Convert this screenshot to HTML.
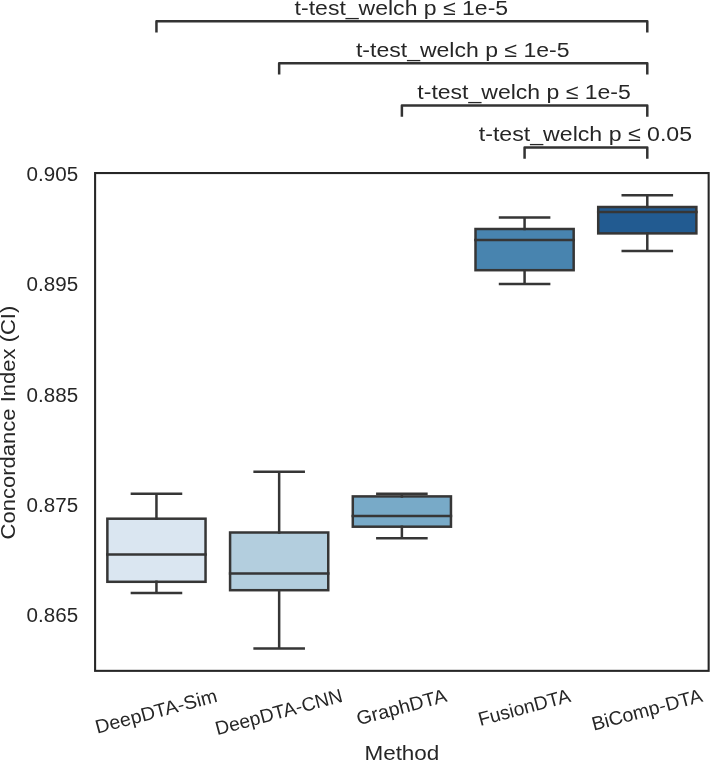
<!DOCTYPE html>
<html><head><meta charset="utf-8"><title>Concordance Index boxplot</title>
<style>html,body{margin:0;padding:0;background:#fff;width:710px;height:761px;overflow:hidden}svg{display:block;will-change:transform}text{fill:#262626}</style>
</head><body>
<svg width="710" height="761" viewBox="0 0 710 761" font-family='"Liberation Sans", sans-serif' fill="#262626">
<rect x="107.37" y="518.70" width="98.17" height="63.10" fill="#dae6f1" stroke="#363636" stroke-width="2.5"/>
<path d="M156.45 518.70V493.70M156.45 581.80V593.10M131.91 493.70H181.00M131.91 593.10H181.00M107.37 554.50H205.54" stroke="#363636" stroke-width="2.5" fill="none" stroke-linecap="square"/>
<rect x="230.08" y="532.50" width="98.17" height="57.70" fill="#b3cede" stroke="#363636" stroke-width="2.5"/>
<path d="M279.16 532.50V471.70M279.16 590.20V648.50M254.62 471.70H303.71M254.62 648.50H303.71M230.08 573.50H328.25" stroke="#363636" stroke-width="2.5" fill="none" stroke-linecap="square"/>
<rect x="352.79" y="496.40" width="98.17" height="30.30" fill="#78aac8" stroke="#363636" stroke-width="2.5"/>
<path d="M401.88 496.40V493.70M401.88 526.70V538.20M377.33 493.70H426.42M377.33 538.20H426.42M352.79 515.95H450.96" stroke="#363636" stroke-width="2.5" fill="none" stroke-linecap="square"/>
<rect x="475.50" y="229.00" width="98.17" height="41.20" fill="#4884af" stroke="#363636" stroke-width="2.5"/>
<path d="M524.58 229.00V217.40M524.58 270.20V284.10M500.04 217.40H549.13M500.04 284.10H549.13M475.50 240.10H573.67" stroke="#363636" stroke-width="2.5" fill="none" stroke-linecap="square"/>
<rect x="598.21" y="207.00" width="98.17" height="26.40" fill="#225b91" stroke="#363636" stroke-width="2.5"/>
<path d="M647.29 207.00V195.20M647.29 233.40V250.90M622.75 195.20H671.84M622.75 250.90H671.84M598.21 212.00H696.38" stroke="#363636" stroke-width="2.5" fill="none" stroke-linecap="square"/>
<rect x="95.1" y="173.05" width="613.55" height="497.80" fill="none" stroke="#262626" stroke-width="2.08" stroke-linecap="square"/>
<path d="M156.45 31.30V21.30H647.29V31.30" stroke="#333333" stroke-width="2.5" fill="none" stroke-linejoin="round" stroke-linecap="square"/>
<path d="M279.16 73.30V63.30H647.29V73.30" stroke="#333333" stroke-width="2.5" fill="none" stroke-linejoin="round" stroke-linecap="square"/>
<path d="M401.88 115.50V105.50H647.29V115.50" stroke="#333333" stroke-width="2.5" fill="none" stroke-linejoin="round" stroke-linecap="square"/>
<path d="M524.58 157.50V147.50H647.29V157.50" stroke="#333333" stroke-width="2.5" fill="none" stroke-linejoin="round" stroke-linecap="square"/>
<text x="401.38" y="14.90" font-size="20.9" text-anchor="middle" textLength="213.50" lengthAdjust="spacingAndGlyphs">t-test_welch p ≤ 1e-5</text>
<text x="462.73" y="56.90" font-size="20.9" text-anchor="middle" textLength="213.50" lengthAdjust="spacingAndGlyphs">t-test_welch p ≤ 1e-5</text>
<text x="524.09" y="99.10" font-size="20.9" text-anchor="middle" textLength="213.50" lengthAdjust="spacingAndGlyphs">t-test_welch p ≤ 1e-5</text>
<text x="585.44" y="141.10" font-size="20.9" text-anchor="middle" textLength="213.30" lengthAdjust="spacingAndGlyphs">t-test_welch p ≤ 0.05</text>
<text x="78.10" y="181.07" font-size="19.4" text-anchor="end" textLength="51.50" lengthAdjust="spacingAndGlyphs">0.905</text>
<text x="78.10" y="291.40" font-size="19.4" text-anchor="end" textLength="51.50" lengthAdjust="spacingAndGlyphs">0.895</text>
<text x="78.10" y="401.73" font-size="19.4" text-anchor="end" textLength="51.50" lengthAdjust="spacingAndGlyphs">0.885</text>
<text x="78.10" y="512.06" font-size="19.4" text-anchor="end" textLength="51.50" lengthAdjust="spacingAndGlyphs">0.875</text>
<text x="78.10" y="622.39" font-size="19.4" text-anchor="end" textLength="51.50" lengthAdjust="spacingAndGlyphs">0.865</text>
<text transform="translate(156.45 712.73) rotate(-15)" x="0.00" y="5.04" font-size="19.2" text-anchor="middle" textLength="125.11" lengthAdjust="spacingAndGlyphs">DeepDTA-Sim</text>
<text transform="translate(279.16 713.46) rotate(-15)" x="0.00" y="5.04" font-size="19.2" text-anchor="middle" textLength="130.74" lengthAdjust="spacingAndGlyphs">DeepDTA-CNN</text>
<text transform="translate(401.88 708.49) rotate(-15)" x="0.00" y="5.04" font-size="19.2" text-anchor="middle" textLength="92.35" lengthAdjust="spacingAndGlyphs">GraphDTA</text>
<text transform="translate(524.58 708.80) rotate(-15)" x="0.00" y="5.04" font-size="19.2" text-anchor="middle" textLength="94.75" lengthAdjust="spacingAndGlyphs">FusionDTA</text>
<text transform="translate(647.29 711.27) rotate(-15)" x="0.00" y="5.04" font-size="19.2" text-anchor="middle" textLength="113.84" lengthAdjust="spacingAndGlyphs">BiComp-DTA</text>
<text x="401.90" y="760.20" font-size="20.9" text-anchor="middle" textLength="74.90" lengthAdjust="spacingAndGlyphs">Method</text>
<text transform="translate(14.5 422.55) rotate(-90)" x="0.00" y="0.00" font-size="20.9" text-anchor="middle" textLength="233.70" lengthAdjust="spacingAndGlyphs">Concordance Index (CI)</text>
</svg>
</body></html>
